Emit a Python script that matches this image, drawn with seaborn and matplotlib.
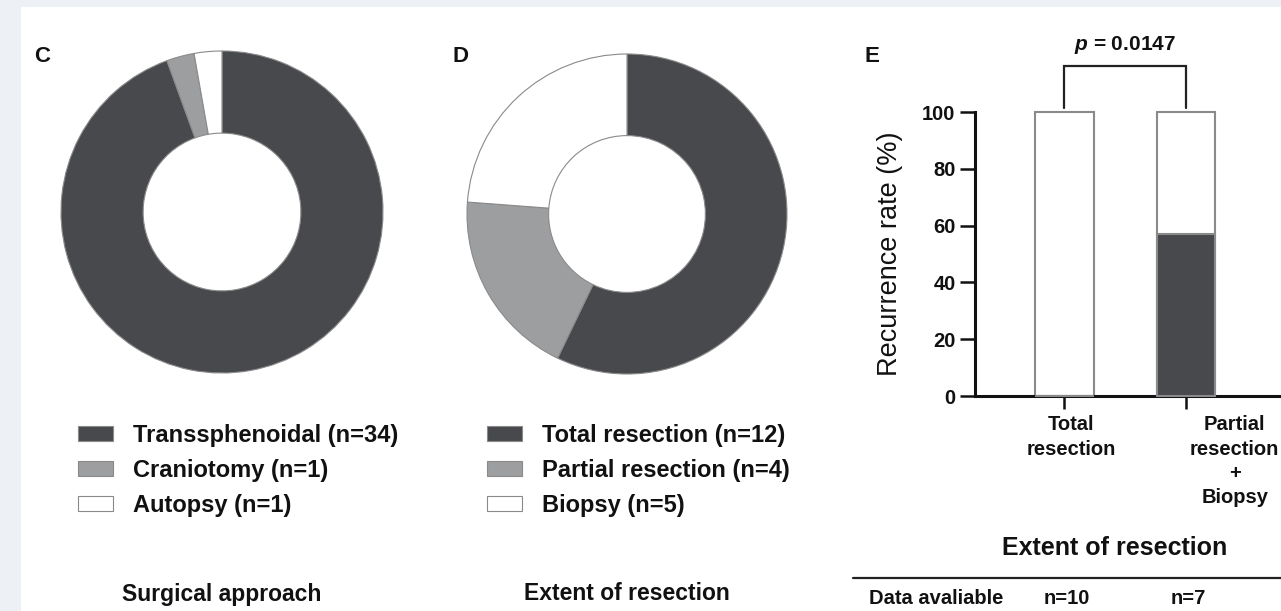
import numpy as np
import pandas as pd
import matplotlib
matplotlib.use("Agg")
import matplotlib.pyplot as plt
import seaborn as sns
from matplotlib.patches import Rectangle, Patch
from matplotlib.lines import Line2D

# ---- data -------------------------------------------------------------
surgical_labels = ["Transsphenoidal", "Craniotomy", "Autopsy"]
surgical_counts = [34, 1, 1]

resection_labels = ["Total resection", "Partial resection", "Biopsy"]
resection_counts = [12, 4, 5]

group_labels = ["Total\nresection", "Partial\nresection\n+\nBiopsy"]
group_available = [10, 7]
group_recurred = [0, 4]
p_value = "0.0147"

# ---- style ------------------------------------------------------------
sns.set_theme(style="white")
plt.rcParams["font.family"] = ["Liberation Sans", "DejaVu Sans"]
plt.rcParams["font.weight"] = "bold"
plt.rcParams["mathtext.fontset"] = "custom"
plt.rcParams["mathtext.it"] = "Liberation Sans:italic:bold"
plt.rcParams["mathtext.rm"] = "Liberation Sans:bold"

DARK = "#47494c"
GRAY = "#9d9ea0"
EDGE = "#8a8a8a"
TXT = "#111111"

W, H = 1281, 611
fig = plt.figure(figsize=(W / 100, H / 100), dpi=100)
fig.patch.set_facecolor("#edf1f6")
# white panel behind everything
fig.patches.append(Rectangle((21 / W, 0), 1 - 21 / W, 1 - 7 / H,
                             transform=fig.transFigure, facecolor="white",
                             edgecolor="none", zorder=-10))


def fx(px):
    return px / W


def fy(py):
    return 1 - py / H


def donut(cx, cy, r, counts, labels, colors, leg_x, leg_y, title):
    pad = 1.08
    size = r * pad
    ax = fig.add_axes([fx(cx - size), fy(cy + size), 2 * size / W, 2 * size / H])
    ax.patch.set_alpha(0)
    ax.pie(counts, colors=colors, startangle=90, counterclock=False,
           radius=1.0,
           wedgeprops=dict(width=0.51, edgecolor=EDGE, linewidth=0.8))
    ax.set_xlim(-pad, pad)
    ax.set_ylim(-pad, pad)
    ax.set_aspect("equal")
    ax.axis("off")
    handles = [Patch(facecolor=c, edgecolor=EDGE, linewidth=0.8) for c in colors]
    texts = [f"{lab} (n={n})" for lab, n in zip(labels, counts)]
    fig.legend(handles, texts, loc="upper left",
               bbox_to_anchor=(fx(leg_x), fy(leg_y)), frameon=False,
               fontsize=17, handlelength=1.5, handleheight=0.6,
               handletextpad=0.85, labelspacing=0.5, borderpad=0,
               borderaxespad=0, labelcolor=TXT)
    fig.text(fx(cx), fy(594), title, ha="center", va="center",
             fontsize=16.5, fontweight="bold", color=TXT)
    return ax


donut(222, 212, 161, surgical_counts, surgical_labels, [DARK, GRAY, "white"],
      78, 424, "Surgical approach")
donut(627, 214, 160, resection_counts, resection_labels, [DARK, GRAY, "white"],
      487, 424, "Extent of resection")

# panel letters
for letter, x in [("C", 42), ("D", 460), ("E", 872)]:
    fig.text(fx(x), fy(57), letter, ha="center", va="center",
             fontsize=16, fontweight="bold", color=TXT)

# ---- panel E: stacked recurrence bars ---------------------------------
rates = [100.0 * r / n for r, n in zip(group_recurred, group_available)]
df = pd.DataFrame({"group": group_labels, "total": [100.0] * len(group_labels),
                   "rate": rates})

axE = fig.add_axes([fx(975), fy(396), (1281 - 975) / W, (396 - 112) / H])
axE.patch.set_alpha(0)
sns.barplot(data=df, x="group", y="total", color="white", edgecolor=EDGE,
            linewidth=1.5, width=0.48, saturation=1, ax=axE, zorder=2)
sns.barplot(data=df, x="group", y="rate", color=DARK, edgecolor=EDGE,
            linewidth=1.5, width=0.48, saturation=1, ax=axE, zorder=3)
for p in axE.patches:
    p.set_clip_on(False)

axE.set_xlim(-0.735, 1.78)
axE.set_ylim(0, 100)
axE.set_yticks([0, 20, 40, 60, 80, 100])
axE.spines["top"].set_visible(False)
axE.spines["right"].set_visible(False)
for s in ("left", "bottom"):
    axE.spines[s].set_linewidth(2.2)
    axE.spines[s].set_color("#111111")
axE.spines["left"].set_bounds(0, 100)
axE.tick_params(axis="y", length=11, width=1.8, pad=3, labelsize=14.5,
                colors="#111111", left=True)
axE.tick_params(axis="x", length=9, width=1.8, bottom=True, colors="#111111",
                labelbottom=False, direction="out")
for lab in axE.get_yticklabels():
    lab.set_fontweight("bold")
axE.set_xlabel("")
axE.set_ylabel("Recurrence rate (%)", fontsize=19.5, fontweight="normal",
               color=TXT, labelpad=14)

# category labels under the ticks
for i, (lab, dx) in enumerate(zip(group_labels, [5, 35])):
    axE.annotate(lab, xy=(i, 0), xycoords="data", xytext=(dx, -14),
                 textcoords="offset points", ha="center", va="top",
                 multialignment="center", fontsize=14.5, fontweight="bold",
                 color=TXT, annotation_clip=False, linespacing=1.35)

# significance bracket
y_lo, y_hi = 101.5, 116.2
axE.plot([0, 0, 1, 1], [y_lo, y_hi, y_hi, y_lo], color="#222222", lw=1.6,
         clip_on=False, solid_joinstyle="miter")
axE.text(0.5, 123.5, r"$p$ = " + p_value, ha="center", va="center",
         fontsize=15, fontweight="bold", color=TXT)

fig.text(fx(1115), fy(548), "Extent of resection", ha="center", va="center",
         fontsize=18, fontweight="bold", color=TXT)

# availability table
fig.add_artist(Line2D([fx(853), 1.0], [fy(578), fy(578)], color="#222222",
                      lw=1.6, transform=fig.transFigure))
fig.text(fx(869), fy(598), "Data avaliable", ha="left", va="center",
         fontsize=14.5, fontweight="bold", color=TXT)
for i, n in enumerate(group_available):
    x_disp = axE.transData.transform((i, 0))[0]
    fig.text(x_disp / W + 2 / W, fy(598), f"n={n}", ha="center", va="center",
             fontsize=14.5, fontweight="bold", color=TXT)

fig.savefig("out.png", dpi=100, facecolor=fig.get_facecolor())
